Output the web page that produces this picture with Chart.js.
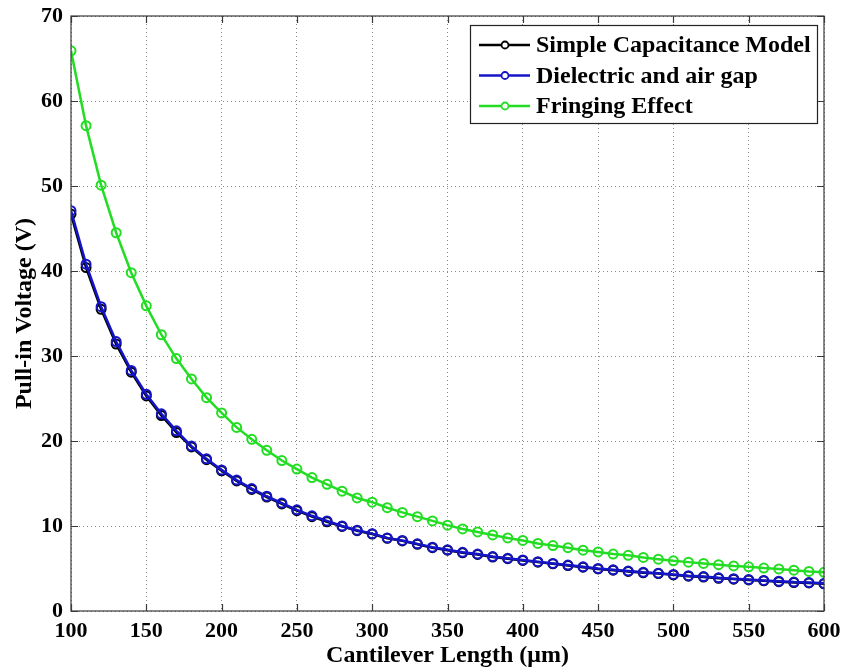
<!DOCTYPE html>
<html>
<head>
<meta charset="utf-8">
<script src="https://cdn.jsdelivr.net/npm/chart.js@4.4.1/dist/chart.umd.min.js"></script>
<style>
  body { margin: 0; background: #fff; }
  canvas { display: block; }
</style>
</head>
<body>
<canvas id="pullinCanvas" width="841" height="671"></canvas>
<script>
// cantilever length (um)
const lengths = [
    100, 110, 120, 130, 140, 150, 160, 170, 180, 190,
    200, 210, 220, 230, 240, 250, 260, 270, 280, 290,
    300, 310, 320, 330, 340, 350, 360, 370, 380, 390,
    400, 410, 420, 430, 440, 450, 460, 470, 480, 490,
    500, 510, 520, 530, 540, 550, 560, 570, 580, 590,
    600
];

// pull-in voltage (V) for each model
const simpleModel = [
    46.7, 40.4, 35.5, 31.4, 28.1, 25.3, 23.0, 21.0, 19.3, 17.8,
    16.5, 15.3, 14.3, 13.4, 12.6, 11.8, 11.1, 10.5, 9.95, 9.45,
    9.05, 8.55, 8.25, 7.85, 7.45, 7.15, 6.85, 6.65, 6.35, 6.15,
    5.95, 5.75, 5.55, 5.35, 5.15, 4.95, 4.8, 4.65, 4.5, 4.4,
    4.25, 4.1, 4.0, 3.85, 3.75, 3.65, 3.55, 3.45, 3.35, 3.3,
    3.2
];
const dielectricGap = [
    47.1, 40.8, 35.8, 31.7, 28.3, 25.5, 23.2, 21.2, 19.4, 17.9,
    16.6, 15.4, 14.4, 13.5, 12.7, 11.9, 11.2, 10.6, 10.0, 9.5,
    9.1, 8.6, 8.3, 7.9, 7.5, 7.2, 6.9, 6.7, 6.4, 6.2,
    6.0, 5.8, 5.6, 5.4, 5.2, 5.0, 4.85, 4.7, 4.55, 4.45,
    4.3, 4.15, 4.05, 3.9, 3.8, 3.7, 3.6, 3.5, 3.4, 3.35,
    3.25
];
const fringing = [
    65.9, 57.1, 50.1, 44.5, 39.8, 35.9, 32.5, 29.7, 27.3, 25.1,
    23.3, 21.6, 20.2, 18.9, 17.7, 16.7, 15.7, 14.9, 14.1, 13.3,
    12.8, 12.15, 11.6, 11.1, 10.6, 10.1, 9.65, 9.3, 8.95, 8.6,
    8.3, 7.95, 7.7, 7.45, 7.15, 6.95, 6.7, 6.55, 6.3, 6.1,
    5.9, 5.75, 5.6, 5.45, 5.3, 5.2, 5.05, 4.95, 4.8, 4.65,
    4.55
];

const xTicks = [100, 150, 200, 250, 300, 350, 400, 450, 500, 550, 600];
const yTicks = [0, 10, 20, 30, 40, 50, 60, 70];

const FONT = "'Liberation Serif', 'Times New Roman', serif";

function toPoints(values) {
    return values.map((v, i) => ({ x: lengths[i], y: v }));
}

function series(label, values, color, order) {
    return {
        label: label,
        data: toPoints(values),
        borderColor: color,
        backgroundColor: 'rgba(0,0,0,0)',
        borderWidth: 2.5,
        pointStyle: 'circle',
        pointRadius: 4.5,
        pointBorderWidth: 2,
        pointBorderColor: color,
        pointBackgroundColor: 'rgba(0,0,0,0)',
        tension: 0,
        order: order
    };
}

// matlab-like box with inward ticks, plus the legend box
const framePlugin = {
    id: 'frame',
    afterDatasetsDraw(chart) {
        const { ctx, chartArea: a, scales } = chart;
        ctx.save();
        ctx.strokeStyle = '#3a3a3a';
        ctx.lineWidth = 1.2;
        ctx.strokeRect(a.left, a.top, a.right - a.left, a.bottom - a.top);
        ctx.beginPath();
        const t = 7;
        xTicks.forEach(v => {
            const px = Math.round(scales.x.getPixelForValue(v)) + 0.5;
            ctx.moveTo(px, a.bottom); ctx.lineTo(px, a.bottom - t);
            ctx.moveTo(px, a.top); ctx.lineTo(px, a.top + t);
        });
        yTicks.forEach(v => {
            const py = Math.round(scales.y.getPixelForValue(v)) + 0.5;
            ctx.moveTo(a.left, py); ctx.lineTo(a.left + t, py);
            ctx.moveTo(a.right, py); ctx.lineTo(a.right - t, py);
        });
        ctx.stroke();
        ctx.restore();
    },
    afterDraw(chart) {
        const { ctx } = chart;
        const x0 = 470, y0 = 25, w = 347, h = 98;
        ctx.save();
        ctx.fillStyle = '#fff';
        ctx.fillRect(x0, y0, w, h);
        ctx.strokeStyle = '#222';
        ctx.lineWidth = 1.2;
        ctx.strokeRect(x0 + 0.5, y0 + 0.5, w, h);
        ctx.font = 'bold 24px ' + FONT;
        ctx.textBaseline = 'middle';
        chart.data.datasets.forEach((ds, i) => {
            const y = 45 + i * 30.5;
            ctx.strokeStyle = ds.borderColor;
            ctx.lineWidth = 2.5;
            ctx.beginPath();
            ctx.moveTo(479, y); ctx.lineTo(530, y);
            ctx.stroke();
            ctx.lineWidth = 1.8;
            ctx.beginPath();
            ctx.arc(505, y, 3.5, 0, Math.PI * 2);
            ctx.fillStyle = '#fff';
            ctx.fill();
            ctx.stroke();
            ctx.fillStyle = '#000';
            ctx.fillText(ds.label, 536, y + 1);
        });
        ctx.restore();
    }
};

const chart = new Chart(document.querySelector('#pullinCanvas'), {
    type: 'line',
    data: {
        datasets: [
            series('Simple Capacitance Model', simpleModel, '#000000', 2),
            series('Dielectric and air gap', dielectricGap, '#1414c8', 1),
            series('Fringing Effect', fringing, '#22dd22', 0)
        ]
    },
    options: {
        responsive: false,
        animation: false,
        devicePixelRatio: 1,
        layout: {
            padding: { top: 16, right: 17, left: 0, bottom: 0 }
        },
        plugins: {
            legend: { display: false },
            tooltip: { enabled: false }
        },
        scales: {
            x: {
                type: 'linear',
                min: 100,
                max: 600,
                afterBuildTicks: s => { s.ticks = xTicks.map(v => ({ value: v })); },
                afterFit: s => {
                    s.height = 60;
                    s.paddingLeft = 0;
                    s.paddingRight = 0;
                },
                grid: {
                    color: '#8a8a8a',
                    lineWidth: 1,
                    drawTicks: false
                },
                border: { display: false, dash: [1, 3] },
                ticks: {
                    color: '#000',
                    padding: 7,
                    maxRotation: 0,
                    font: { family: FONT, size: 22, weight: 'bold' }
                },
                title: {
                    display: true,
                    text: 'Cantilever Length (\u03bcm)',
                    color: '#000',
                    padding: { top: 0, bottom: 1 },
                    font: { family: FONT, size: 24, weight: 'bold' }
                }
            },
            y: {
                min: 0,
                max: 70,
                afterBuildTicks: s => { s.ticks = yTicks.map(v => ({ value: v })); },
                afterFit: s => {
                    s.width = 71;
                    s.paddingTop = 0;
                    s.paddingBottom = 0;
                },
                grid: {
                    color: '#8a8a8a',
                    lineWidth: 1,
                    drawTicks: false
                },
                border: { display: false, dash: [1, 3] },
                ticks: {
                    color: '#000',
                    padding: 8,
                    font: { family: FONT, size: 22, weight: 'bold' }
                },
                title: {
                    display: true,
                    text: 'Pull-in Voltage (V)',
                    color: '#000',
                    padding: { top: 10, bottom: 0 },
                    font: { family: FONT, size: 24, weight: 'bold' }
                }
            }
        }
    },
    plugins: [framePlugin]
});
</script>
</body>
</html>
